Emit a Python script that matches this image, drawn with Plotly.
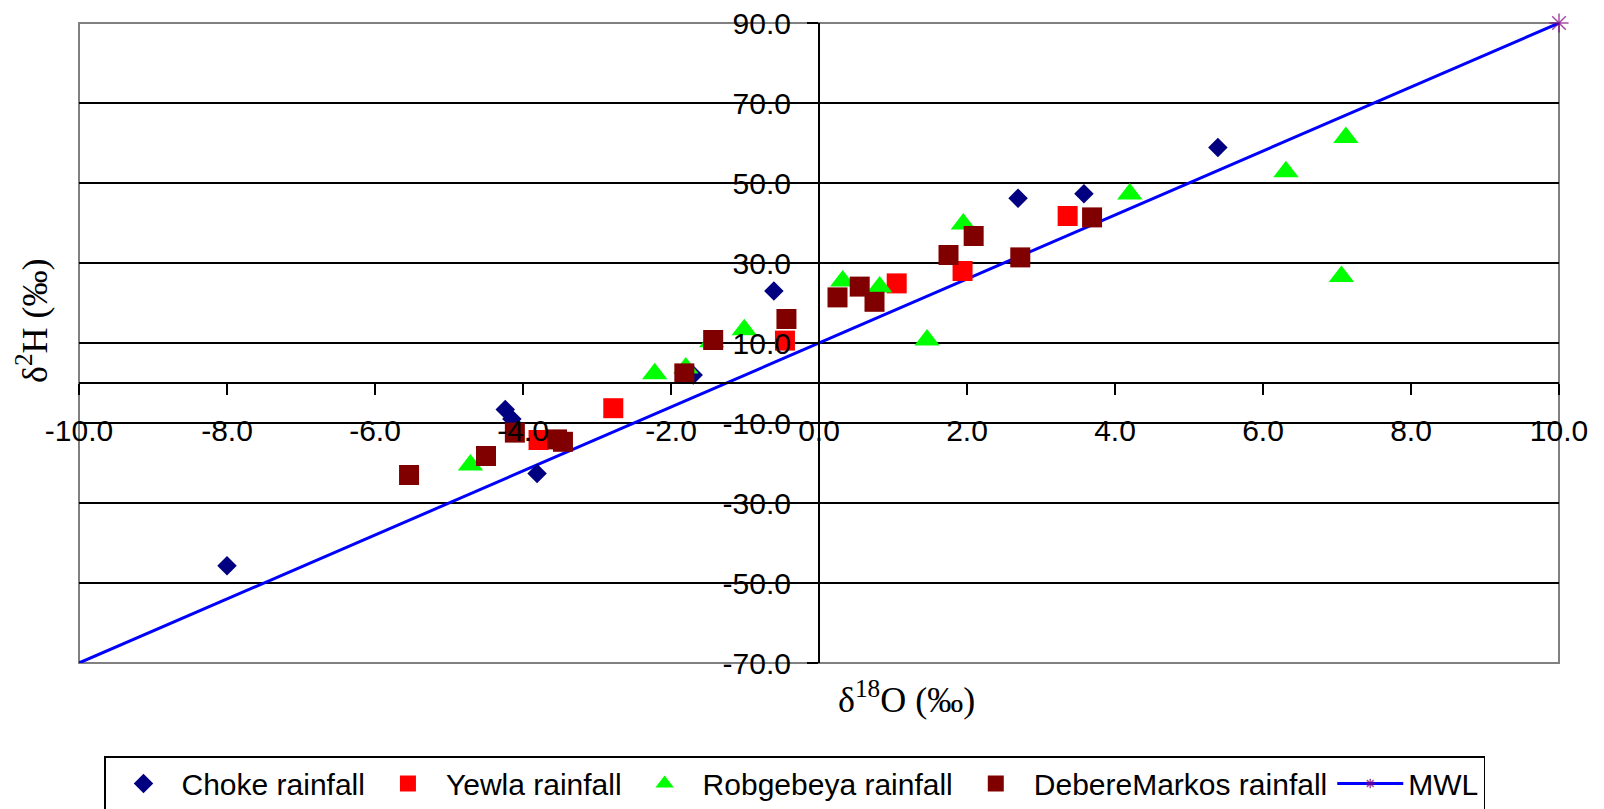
import plotly.graph_objects as go

# ---------------- data ----------------
choke_x = [-8.0, -4.24, -4.15, -3.81, -1.70, -0.61, 2.69, 3.58, 5.39]
choke_y = [-45.7, -6.6, -9.0, -22.6, 2.0, 23.0, 46.2, 47.3, 58.9]

yewla_x = [-3.79, -2.78, -0.46, 1.05, 1.94, 3.36]
yewla_y = [-14.25, -6.3, 10.6, 24.9, 28.0, 41.75]

robg_x = [-4.71, -2.22, -1.80, -1.45, -1.01, 0.32, 0.82, 1.46, 1.95, 4.20, 6.31, 7.06, 7.12]
robg_y = [-20.5, 2.3, 3.75, 10.3, 13.3, 25.5, 24.0, 10.75, 39.75, 47.25, 52.8, 26.6, 61.4]

dm_x = [-5.54, -4.50, -4.11, -3.54, -3.46, -1.82, -1.43, -0.44, 0.25, 0.55, 0.75, 1.75, 2.09, 2.72, 3.69]
dm_y = [-23.0, -18.25, -12.4, -14.1, -14.7, 2.4, 10.75, 16.0, 21.4, 24.1, 20.3, 32.0, 36.75, 31.4, 41.4]

mwl_x = [-10.0, 10.0]
mwl_y = [-70.0, 90.0]

x_ticks = [-10, -8, -6, -4, -2, 0, 2, 4, 6, 8, 10]
y_ticks = [-70, -50, -30, -10, 10, 30, 50, 70, 90]
x_ticktext = [f"{v:.1f}" for v in x_ticks]
y_ticktext = [f"{v:.1f}" for v in y_ticks]

# ---------------- style ----------------
SANS = "Liberation Sans, Arial, sans-serif"
SERIF = "Liberation Serif, Times New Roman, serif"
W, H = 1604, 809
ML, MR, MT, MB = 79, 45, 23, 146

fig = go.Figure()

# MWL drawn first so markers sit on top of the line
fig.add_trace(go.Scatter(
    x=mwl_x, y=mwl_y, name="MWL", mode="lines+markers",
    line=dict(color="#0000FF", width=3),
    marker=dict(symbol="asterisk-open", size=[0, 16], color="#800080",
                line=dict(color="#800080", width=1.5)),
    cliponaxis=False, legendrank=1005))

fig.add_trace(go.Scatter(
    x=choke_x, y=choke_y, name="Choke rainfall", mode="markers",
    marker=dict(symbol="diamond", size=15, color="#000080"),
    legendrank=1001))
fig.add_trace(go.Scatter(
    x=yewla_x, y=yewla_y, name="Yewla rainfall", mode="markers",
    marker=dict(symbol="square", size=20, color="#FF0000"),
    legendrank=1002))
fig.add_trace(go.Scatter(
    x=robg_x, y=robg_y, name="Robgebeya rainfall", mode="markers",
    marker=dict(symbol="triangle-up", size=22, color="#00FF00"),
    legendrank=1003))
fig.add_trace(go.Scatter(
    x=dm_x, y=dm_y, name="DebereMarkos rainfall", mode="markers",
    marker=dict(symbol="square", size=20, color="#800000"),
    legendrank=1004))

y0_frac = (0 - (-70)) / (90 - (-70))

fig.update_layout(
    width=W, height=H,
    margin=dict(l=ML, r=MR, t=MT, b=MB, autoexpand=False),
    paper_bgcolor="white", plot_bgcolor="white",
    showlegend=True,
    xaxis=dict(
        range=[-10, 10], anchor="free", position=y0_frac, side="bottom",
        tickvals=x_ticks, ticktext=x_ticktext,
        showgrid=False, zeroline=False,
        showline=True, linecolor="black", linewidth=2,
        ticks="outside", ticklen=11, tickwidth=1.5, tickcolor="black",
        ticklabelstandoff=10,
        tickfont=dict(family=SANS, size=30, color="black"),
    ),
    yaxis=dict(
        range=[-70, 90], anchor="free", position=0.5, side="left",
        tickvals=y_ticks, ticktext=y_ticktext,
        showgrid=True, gridcolor="black", gridwidth=1.5,
        zeroline=False,
        showline=True, linecolor="black", linewidth=2,
        ticks="outside", ticklen=11, tickwidth=1.5, tickcolor="black",
        ticklabelstandoff=10,
        tickfont=dict(family=SANS, size=30, color="black"),
    ),
    legend=dict(
        orientation="h", x=(104 - ML) / (W - ML - MR), xanchor="left",
        y=(H - MB - 756) / (H - MT - MB), yanchor="top",
        bordercolor="black", borderwidth=1.5, bgcolor="white",
        font=dict(family=SANS, size=30, color="black"),
        itemwidth=66,
    ),
    shapes=[dict(type="rect", xref="paper", yref="paper", x0=0, x1=1, y0=0, y1=1,
                 line=dict(color="#808080", width=2), layer="between")],
    annotations=[
        dict(text="δ<sup>2</sup>H (‰)", textangle=-90, xref="paper", yref="paper",
             x=(32 - ML) / (W - ML - MR), y=(H - MB - 321) / (H - MT - MB),
             xanchor="center", yanchor="middle", showarrow=False,
             font=dict(family=SERIF, size=36, color="black")),
        dict(text="δ<sup>18</sup>O (‰)", xref="paper", yref="paper",
             x=(907 - ML) / (W - ML - MR), y=(H - MB - 697) / (H - MT - MB),
             xanchor="center", yanchor="middle", showarrow=False,
             font=dict(family=SERIF, size=36, color="black")),
    ],
)

fig.write_html("out.html", config={"displayModeBar": False},
               post_script="document.body.style.margin='0';")
